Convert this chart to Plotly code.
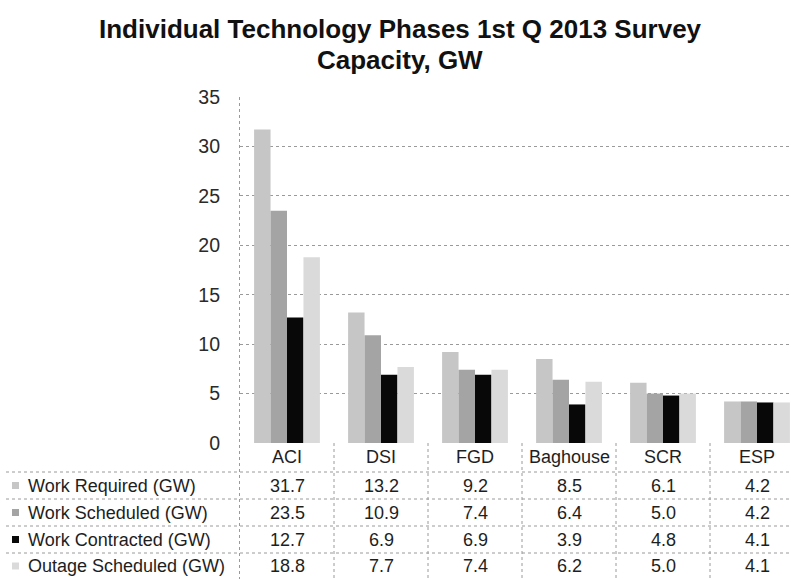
import plotly.graph_objects as go

# ---- data ----
categories = ["ACI", "DSI", "FGD", "Baghouse", "SCR", "ESP"]
series_names = [
    "Work Required (GW)",
    "Work Scheduled (GW)",
    "Work Contracted (GW)",
    "Outage Scheduled (GW)",
]
work_required = [31.7, 13.2, 9.2, 8.5, 6.1, 4.2]
work_scheduled = [23.5, 10.9, 7.4, 6.4, 5.0, 4.2]
work_contracted = [12.7, 6.9, 6.9, 3.9, 4.8, 4.1]
outage_scheduled = [18.8, 7.7, 7.4, 6.2, 5.0, 4.1]
y_ticks = [0, 5, 10, 15, 20, 25, 30, 35]
title_lines = ["Individual Technology Phases 1st Q 2013 Survey", "Capacity, GW"]

series_values = [work_required, work_scheduled, work_contracted, outage_scheduled]
series_colors = ["#c6c6c6", "#a4a4a4", "#080808", "#dadada"]

# ---- page geometry ----
W, H = 791, 579
L, R, T, B = 240, 0, 97, 136
PW, PH = W - L - R, H - T - B
CAT_W = 94  # pixel width of one category column

FONT = "Liberation Sans, Arial, sans-serif"
TXT = "#1e1e1e"
GRID = "#9a9a9a"
TABLE_FS = 18


def px(xp):
    return (xp - L) / PW


def py(yp):
    return (H - B - yp) / PH


fig = go.Figure()
for name, vals, col in zip(series_names, series_values, series_colors):
    fig.add_trace(go.Bar(name=name, x=categories, y=vals,
                         marker=dict(color=col, line=dict(width=0)),
                         showlegend=False))

annotations = []

# ---- two-line bold title ----
for ty, line in zip([29, 60], title_lines):
    annotations.append(dict(x=px(400), xref="paper", y=py(ty), yref="paper",
                            text=f"<b>{line}</b>", showarrow=False,
                            xanchor="center", yanchor="middle",
                            font=dict(family=FONT, size=26, color="#111111")))

# ---- data table below the plot ----
header_y = 457
row_y = [485.5, 512.5, 539.5, 566]
row_lines = [472, 499, 526, 553]

for c in categories:
    annotations.append(dict(x=c, xref="x", y=py(header_y), yref="paper",
                            text=c, showarrow=False, xanchor="center", yanchor="middle",
                            font=dict(family=FONT, size=TABLE_FS, color=TXT)))
for ry, name, vals in zip(row_y, series_names, series_values):
    annotations.append(dict(x=px(26), xref="paper", y=py(ry), yref="paper",
                            text=name, showarrow=False, xanchor="left", yanchor="middle",
                            font=dict(family=FONT, size=TABLE_FS, color=TXT)))
    for c, v in zip(categories, vals):
        annotations.append(dict(x=c, xref="x", y=py(ry), yref="paper",
                                text=f"{v:.1f}", showarrow=False,
                                xanchor="center", yanchor="middle",
                                font=dict(family=FONT, size=TABLE_FS, color=TXT)))

dot = dict(color=GRID, width=1, dash="dot")
shapes = []
# left border of plot and table
shapes.append(dict(type="line", xref="paper", yref="paper", x0=px(239.5), x1=px(239.5),
                   y0=1, y1=py(H), line=dot))
# column separators in the table
for i in range(len(categories) - 1):
    shapes.append(dict(type="line", xref="x", yref="paper", x0=i + 0.5, x1=i + 0.5,
                       y0=0, y1=py(H), line=dot))
# row separators
for ly in row_lines:
    shapes.append(dict(type="line", xref="paper", yref="paper", x0=px(6), x1=1,
                       y0=py(ly), y1=py(ly), line=dot))
# legend keys
for ry, col in zip(row_y, series_colors):
    shapes.append(dict(type="rect", xref="paper", yref="paper",
                       x0=px(12), x1=px(19), y0=py(ry + 3.5), y1=py(ry - 3.5),
                       fillcolor=col, line=dict(width=0)))

fig.update_layout(
    width=W, height=H,
    margin=dict(l=L, r=R, t=T, b=B, pad=0),
    paper_bgcolor="white", plot_bgcolor="white",
    barmode="group", bargap=0.30, bargroupgap=0,
    xaxis=dict(range=[-0.5, -0.5 + PW / CAT_W], showticklabels=False, showgrid=False,
               zeroline=False, showline=False, ticks=""),
    yaxis=dict(range=[0, 35], tickvals=y_ticks, showgrid=True, gridcolor=GRID,
               griddash="dot", gridwidth=1, zeroline=False, showline=False,
               ticks="", ticklabelstandoff=19,
               tickfont=dict(family=FONT, size=19.5, color="#2a2a2a")),
    annotations=annotations,
    shapes=shapes,
)

fig.write_html("out.html")
